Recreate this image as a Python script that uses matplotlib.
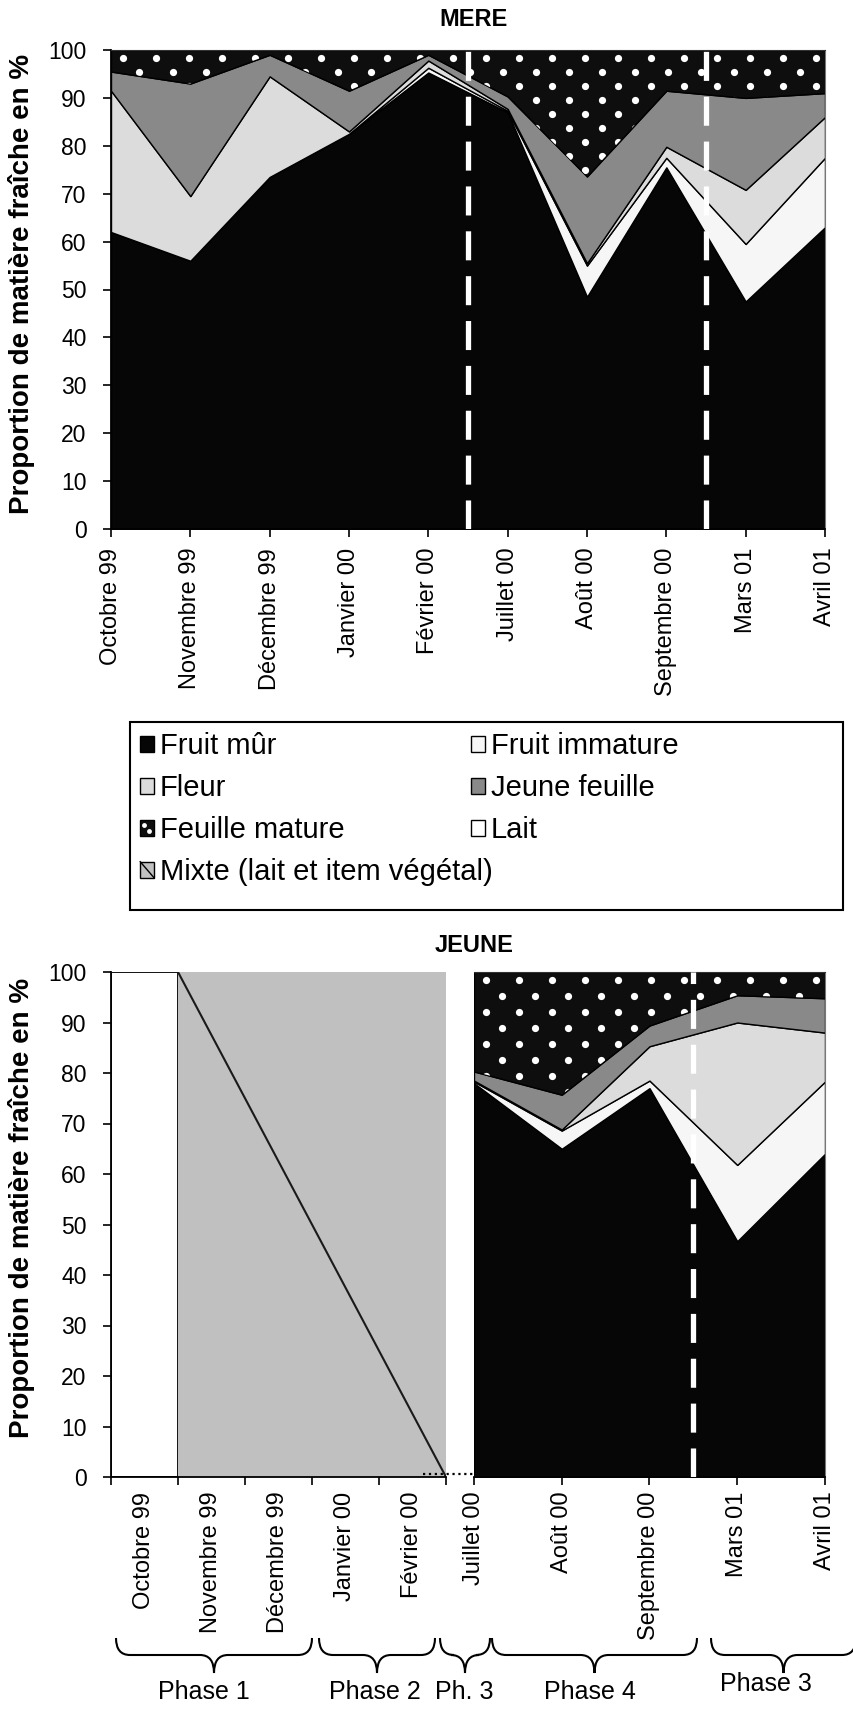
import numpy as np
import matplotlib
matplotlib.use('Agg')
import matplotlib.pyplot as plt
from matplotlib.patches import Rectangle, Patch, PathPatch
from matplotlib.lines import Line2D
from matplotlib.path import Path
from matplotlib.legend_handler import HandlerBase

plt.rcParams['font.family'] = ['Liberation Sans', 'DejaVu Sans']

W, H = 854, 1728

# ---- data (proportion de matiere fraiche, %) ----
mois_mere = ['Octobre 99', 'Novembre 99', 'Décembre 99', 'Janvier 00', 'Février 00',
             'Juillet 00', 'Août 00', 'Septembre 00', 'Mars 01', 'Avril 01']
mere_fruit_mur = [62, 56, 73.5, 82.5, 95.3, 87, 48.5, 75.5, 47.5, 63]
mere_fruit_immature = [0, 0, 0, 0, 1, 0.3, 6.5, 2, 12, 14.5]
mere_fleur = [29.5, 13.5, 21, 0.5, 1.5, 0.4, 0.5, 2.3, 11.3, 8.5]
mere_jeune_feuille = [4, 23.5, 4.5, 8.5, 1.2, 2.6, 18.1, 11.7, 19.2, 5]
mere_feuille_mature = [4.5, 7, 1, 8.5, 1, 9.7, 26.4, 8.5, 10, 9]

mois_jeune_lait = ['Octobre 99', 'Novembre 99', 'Décembre 99', 'Janvier 00', 'Février 00']
jeune_lait = [100, 0, 0, 0, 0]
jeune_mixte = [0, 100, 100, 100, 100]

mois_jeune = ['Juillet 00', 'Août 00', 'Septembre 00', 'Mars 01', 'Avril 01']
jeune_fruit_mur = [78, 65, 77, 46.7, 64]
jeune_fruit_immature = [0.3, 3.6, 1.5, 15.1, 14.3]
jeune_fleur = [0.2, 0.2, 6.8, 28.2, 9.7]
jeune_jeune_feuille = [1.8, 6.9, 4.1, 5.4, 6.8]
jeune_feuille_mature = [19.7, 24.3, 10.6, 4.6, 5.2]

phases = ['Phase 1', 'Phase 2', 'Ph. 3', 'Phase 4', 'Phase 3']

# ---- styles ----
c_mur = '#060606'
c_imm = '#f6f6f6'
c_fleur = '#dcdcdc'
c_jeune = '#898989'
c_mature = '#0e0e0e'
c_lait = 'white'
c_mixte = '#c0c0c0'
layer_colors = [c_mur, c_imm, c_fleur, c_jeune, c_mature]


def ax_rect(x0, y0, x1, y1):
    return [x0 / W, 1 - y1 / H, (x1 - x0) / W, (y1 - y0) / H]


def fpt(x, y):
    return (x / W, 1 - y / H)


def add_dots(ax, poly, dx=33, dy=14, s=27):
    # white dot texture, clipped to the "feuille mature" area
    pos = ax.get_position()
    w = pos.width * W
    h = pos.height * H
    pts = []
    for i, yy in enumerate(np.arange(h - 8, 0, -dy)):
        off = 12 + (dx / 2 if i % 2 else 0)
        for xx in np.arange(off, w, dx):
            pts.append((xx / w, yy / h))
    pts = np.array(pts)
    sc = ax.scatter(pts[:, 0], pts[:, 1], s=s, color='white', linewidths=0,
                    transform=ax.transAxes, zorder=3)
    sc.set_clip_path(poly.get_paths()[0], ax.transData)


def style_ticks(ax, xpad):
    ax.tick_params(direction='out', length=5.5, width=1.2, labelsize=16.5, pad=12)
    ax.tick_params(axis='x', labelsize=17, pad=xpad)


fig = plt.figure(figsize=(W / 100, H / 100), dpi=100)

# ================= MERE =================
ax1 = fig.add_axes(ax_rect(111, 50, 825, 529))
x1 = np.arange(len(mois_mere))
polys = ax1.stackplot(x1, mere_fruit_mur, mere_fruit_immature, mere_fleur,
                      mere_jeune_feuille, mere_feuille_mature,
                      colors=layer_colors, edgecolor='black', linewidth=1)
add_dots(ax1, polys[4])
for xv in [4.5, 7.5]:
    ax1.axvline(xv, color='white', lw=3.8, dashes=(5.5, 3), zorder=4)
ax1.set_xlim(0, len(mois_mere) - 1)
ax1.set_ylim(0, 100)
ax1.set_yticks(range(0, 101, 10))
ax1.set_xticks(x1)
ax1.set_xticklabels(mois_mere, rotation=90)
style_ticks(ax1, 8)
for sp in ['left', 'bottom']:
    ax1.spines[sp].set_linewidth(1.3)
ax1.spines['right'].set_color('#777777')
ax1.spines['top'].set_color('#333333')

fig.text(474 / W, 1 - 19 / H, 'MERE', ha='center', va='center',
         fontsize=17, fontweight='bold')
fig.text(22 / W, 1 - 284 / H, 'Proportion de matière fraîche en %', rotation=90,
         ha='center', va='center', fontsize=20, fontweight='bold')

# ================= legende =================


class HandlerMixte(HandlerBase):
    def create_artists(self, legend, orig_handle, xdescent, ydescent, width, height, fontsize, trans):
        r = Rectangle((-xdescent, -ydescent), width, height, facecolor=c_mixte,
                      edgecolor='black', lw=1, transform=trans)
        l = Line2D([-xdescent, -xdescent + width], [-ydescent + height, -ydescent],
                   color='black', lw=1, transform=trans)
        return [r, l]


class HandlerMature(HandlerBase):
    def create_artists(self, legend, orig_handle, xdescent, ydescent, width, height, fontsize, trans):
        r = Rectangle((-xdescent, -ydescent), width, height, facecolor=c_mature,
                      edgecolor='black', lw=1, transform=trans)
        d = Line2D([-xdescent + 0.3 * width, -xdescent + 0.65 * width],
                   [-ydescent + 0.7 * height, -ydescent + 0.3 * height],
                   ls='none', marker='o', ms=3.5, mfc='white', mec='none', transform=trans)
        return [r, d]


h_mur = Patch(facecolor=c_mur, edgecolor='black', lw=1)
h_fleur = Patch(facecolor=c_fleur, edgecolor='black', lw=1)
h_mature = Patch(facecolor=c_mature)
h_mixte = Patch(facecolor=c_mixte)
h_imm = Patch(facecolor=c_imm, edgecolor='black', lw=1)
h_jeune = Patch(facecolor=c_jeune, edgecolor='black', lw=1)
h_lait = Patch(facecolor=c_lait, edgecolor='black', lw=1)

fig.patches.append(Rectangle(fpt(130, 910), (843 - 130) / W, (910 - 722) / H,
                             transform=fig.transFigure, fill=False,
                             edgecolor='black', lw=1.5))
leg_kw = dict(loc='upper left', frameon=False, fontsize=21, handlelength=0.48,
              handleheight=0.48, handletextpad=0.2, labelspacing=0.48,
              borderpad=0.35, borderaxespad=0,
              handler_map={h_mixte: HandlerMixte(), h_mature: HandlerMature()})
fig.legend([h_mur, h_fleur, h_mature, h_mixte],
           ['Fruit mûr', 'Fleur', 'Feuille mature', 'Mixte (lait et item végétal)'],
           bbox_to_anchor=fpt(130, 722), **leg_kw)
fig.legend([h_imm, h_jeune, h_lait],
           ['Fruit immature', 'Jeune feuille', 'Lait'],
           bbox_to_anchor=fpt(461, 722), **leg_kw)

# ================= JEUNE =================
ax2 = fig.add_axes(ax_rect(111, 972, 446, 1477))
x2 = np.arange(len(mois_jeune_lait)) + 0.5
ax2.bar(x2, jeune_lait, width=1, color=c_lait, edgecolor='black', lw=1.3)
ax2.bar(x2, jeune_mixte, width=1, bottom=jeune_lait, color=c_mixte, edgecolor='none')
idx = np.nonzero(jeune_mixte)[0]
ax2.plot([idx[0], idx[-1] + 1], [max(jeune_mixte), 0], color='#1a1a1a', lw=1.5)
ax2.set_xlim(0, len(mois_jeune_lait))
ax2.set_ylim(0, 100)
ax2.set_yticks(range(0, 101, 10))
ax2.set_xticks(np.arange(len(mois_jeune_lait) + 1))
ax2.set_xticklabels([])
ax2.set_xticks(x2, minor=True)
ax2.set_xticklabels(mois_jeune_lait, minor=True, rotation=90)
style_ticks(ax2, 5)
ax2.tick_params(axis='x', which='minor', length=0, labelsize=17, pad=10.5)
ax2.spines['top'].set_visible(False)
ax2.spines['right'].set_visible(False)
for sp in ['left', 'bottom']:
    ax2.spines[sp].set_linewidth(1.3)

ax3 = fig.add_axes(ax_rect(474, 972, 825, 1477))
x3 = np.arange(len(mois_jeune))
polys3 = ax3.stackplot(x3, jeune_fruit_mur, jeune_fruit_immature, jeune_fleur,
                       jeune_jeune_feuille, jeune_feuille_mature,
                       colors=layer_colors, edgecolor='black', linewidth=1)
add_dots(ax3, polys3[4], dx=33, dy=16)
ax3.axvline(2.5, color='white', lw=3.8, dashes=(5.5, 3), zorder=4)
ax3.plot([-0.58, 0], [0.6, 0.6], ls=':', color='black', lw=1.6, clip_on=False, zorder=5)
ax3.set_xlim(0, len(mois_jeune) - 1)
ax3.set_ylim(0, 100)
ax3.set_yticks([])
ax3.set_xticks(x3)
ax3.set_xticklabels(mois_jeune, rotation=90)
style_ticks(ax3, 5)
ax3.spines['left'].set_visible(False)
ax3.spines['top'].set_color('#333333')
ax3.spines['right'].set_color('#777777')
ax3.spines['bottom'].set_linewidth(1.3)

fig.text(474 / W, 1 - 946 / H, 'JEUNE', ha='center', va='center',
         fontsize=17, fontweight='bold')
fig.text(22 / W, 1 - 1208 / H, 'Proportion de matière fraîche en %', rotation=90,
         ha='center', va='center', fontsize=20, fontweight='bold')

# ---- accolades des phases ----
brace_spans = [(116, 312), (319, 435), (440, 490), (492, 697), (711, 856)]
label_pos = [(204, 1692), (375, 1692), (464, 1692), (590, 1692), (766, 1684)]


def brace(x0, x1, y_top=1638, y_mid=1655, y_tip=1673, r=14):
    xc = (x0 + x1) / 2
    verts = [(x0, y_top), (x0, y_mid), (x0 + r, y_mid),
             (xc - r, y_mid), (xc, y_mid), (xc, y_tip),
             (xc, y_mid), (xc + r, y_mid),
             (x1 - r, y_mid), (x1, y_mid), (x1, y_top)]
    codes = [Path.MOVETO, Path.CURVE3, Path.CURVE3, Path.LINETO, Path.CURVE3, Path.CURVE3,
             Path.CURVE3, Path.CURVE3, Path.LINETO, Path.CURVE3, Path.CURVE3]
    p = Path([fpt(vx, vy) for vx, vy in verts], codes)
    fig.patches.append(PathPatch(p, transform=fig.transFigure, fill=False,
                                 edgecolor='black', lw=1.5))


for (bx0, bx1), name, (lx, ly) in zip(brace_spans, phases, label_pos):
    brace(bx0, bx1)
    fig.text(lx / W, 1 - ly / H, name, ha='center', va='center', fontsize=18)

fig.savefig('out.png', dpi=100)
